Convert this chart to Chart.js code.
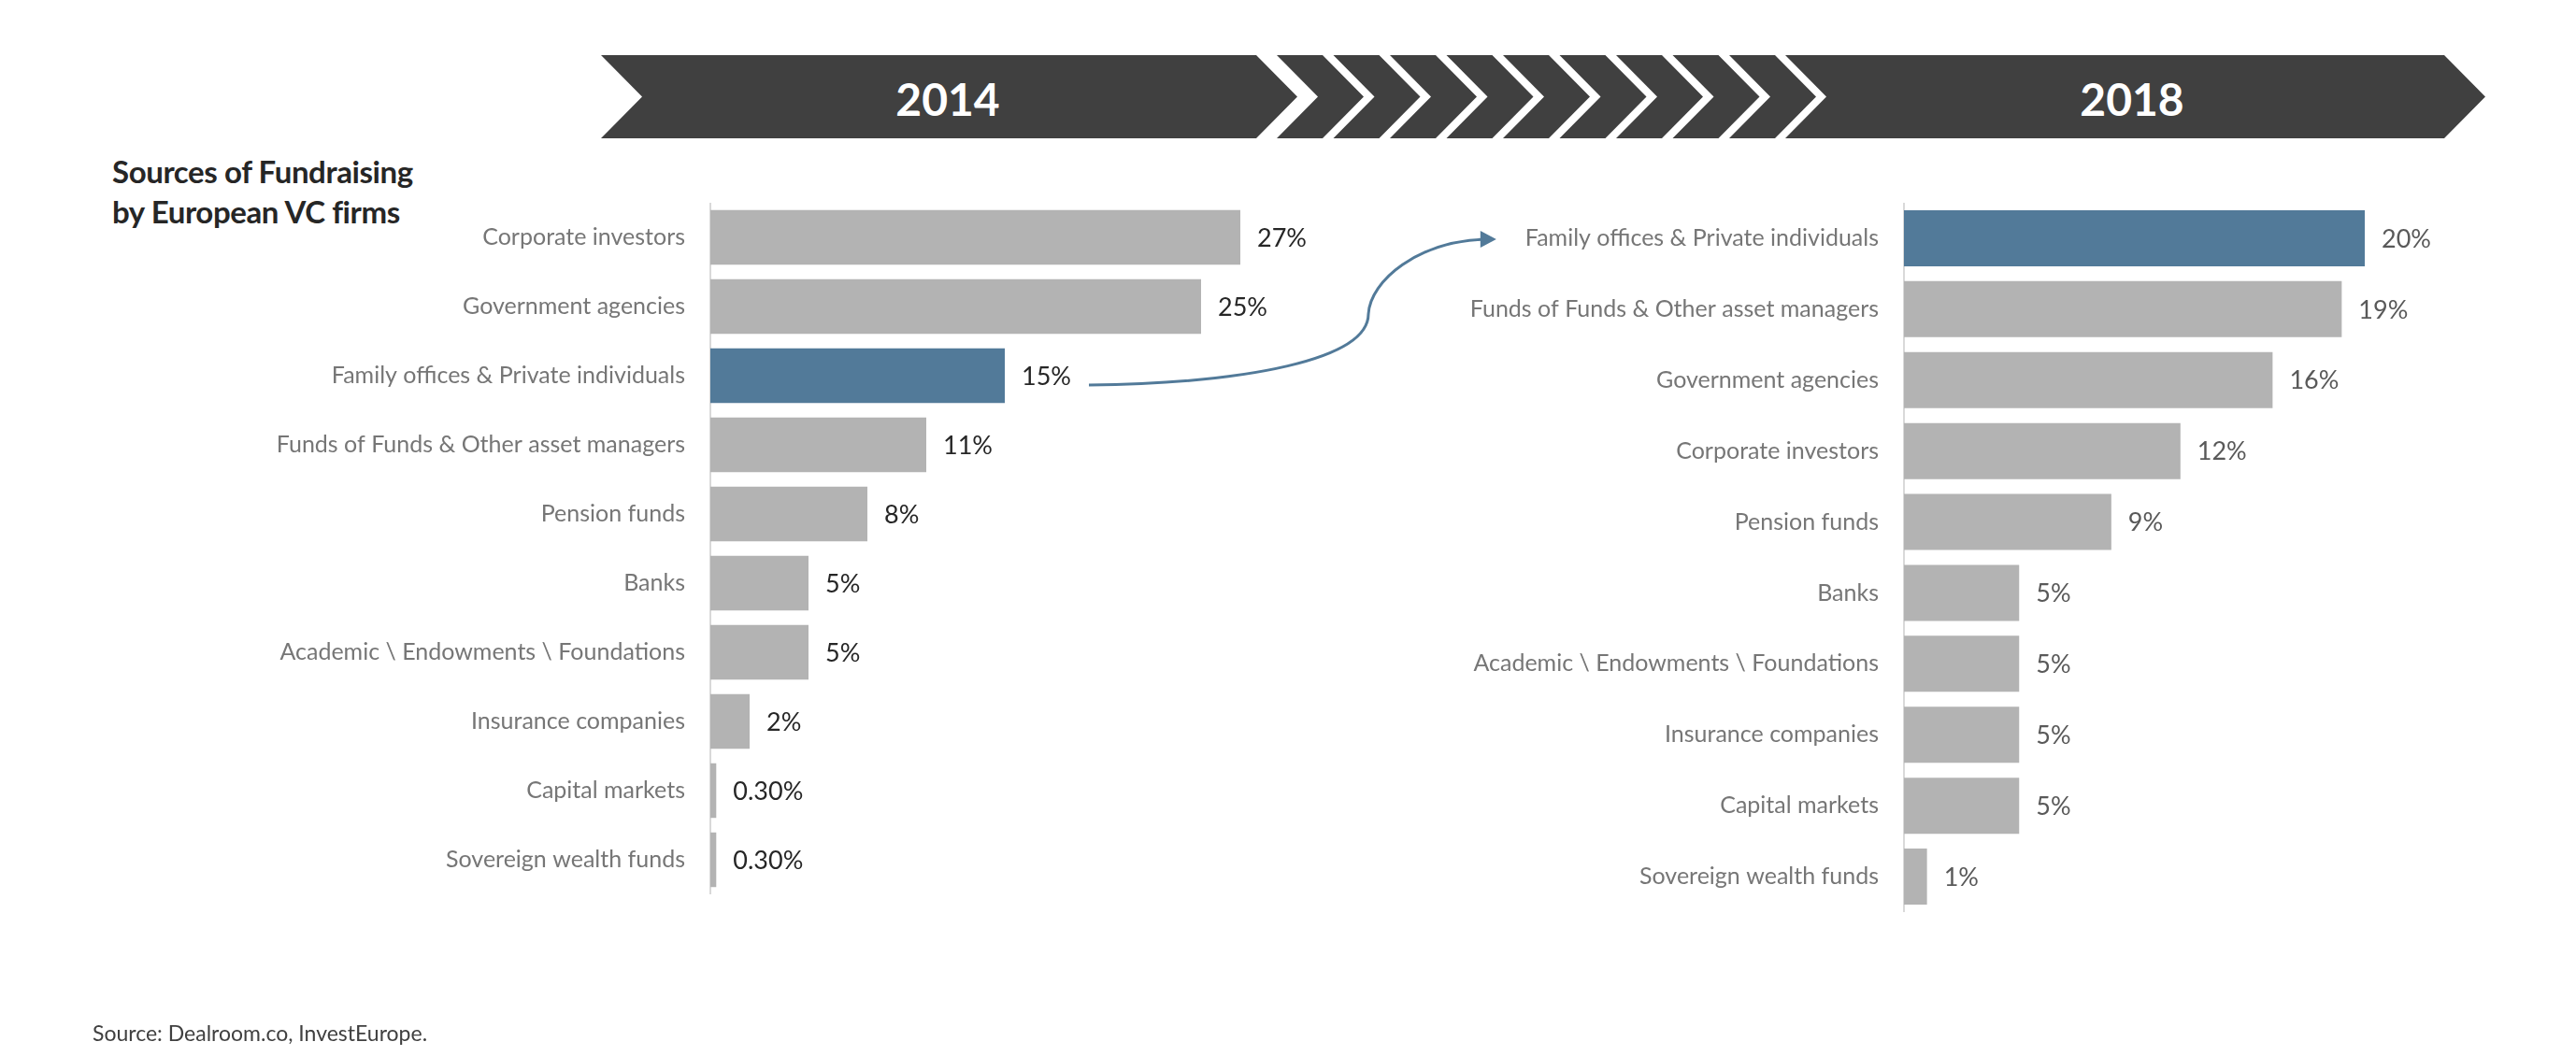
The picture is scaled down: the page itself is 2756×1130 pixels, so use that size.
<!DOCTYPE html>
<html><head><meta charset="utf-8">
<script src="https://cdn.jsdelivr.net/npm/chart.js@4.4.1/dist/chart.umd.min.js"></script>
<style>
html,body{margin:0;padding:0;background:#fff;}
body{width:2756px;height:1130px;position:relative;overflow:hidden;font-family:Lato, sans-serif;}
.box{position:absolute;}
#title{position:absolute;left:120px;top:162px;font-weight:700;font-size:33px;line-height:43px;color:#262626;letter-spacing:-0.4px;}
#source{position:absolute;left:99px;top:1091px;font-size:23px;color:#404040;}
#banner{position:absolute;left:0;top:0;}
#overlay{position:absolute;left:0;top:0;pointer-events:none;}
</style></head>
<body>
<svg id="banner" width="2756" height="170"></svg>
<div id="title">Sources of Fundraising<br>by European VC firms</div>
<div class="box" id="leftBox" style="left:260px;top:217px;width:1340px;height:740px"><canvas id="left"></canvas></div>
<div class="box" id="rightBox" style="left:1537px;top:217px;width:1190px;height:759px"><canvas id="right"></canvas></div>
<svg id="overlay" width="2756" height="1130"></svg>
<div id="source">Source: Dealroom.co, InvestEurope.</div>
<script>
// ---- data ----
const periods = ['2014', '2018'];
const highlight = 'Family offices & Private individuals';
const labels2014 = ['Corporate investors','Government agencies','Family offices & Private individuals','Funds of Funds & Other asset managers','Pension funds','Banks','Academic \\ Endowments \\ Foundations','Insurance companies','Capital markets','Sovereign wealth funds'];
const values2014 = [27, 25, 15, 11, 8, 5, 5, 2, 0.3, 0.3];
const labels2018 = ['Family offices & Private individuals','Funds of Funds & Other asset managers','Government agencies','Corporate investors','Pension funds','Banks','Academic \\ Endowments \\ Foundations','Insurance companies','Capital markets','Sovereign wealth funds'];
const values2018 = [20, 19, 16, 12, 9, 5, 5, 5, 5, 1];

// ---- styles ----
const GRAY = '#b3b3b3', BLUE = '#527a99', DARK = '#404040';
const FONT = 'Lato';
Chart.defaults.font.family = FONT;

// ---- banner ----
(function(){
  const svg = document.getElementById('banner');
  const top = 59, bot = 148, mid = (top+bot)/2, tip = 44;
  let s = '';
  const seg = (x0, x1) => `<polygon fill="${DARK}" points="${x0},${top} ${x1},${top} ${x1+tip},${mid} ${x1},${bot} ${x0},${bot} ${x0+tip},${mid}"/>`;
  s += seg(643, 1344);
  for (let i = 0; i < 9; i++) { const x0 = 1366 + i*60.5; s += seg(x0, x0+49); }
  s += seg(1910, 2615);
  s += `<text x="1014" y="${mid+2}" fill="#fff" font-family="${FONT}" font-weight="700" font-size="48" text-anchor="middle" dominant-baseline="central">${periods[0]}</text>`;
  s += `<text x="2281" y="${mid+2}" fill="#fff" font-family="${FONT}" font-weight="700" font-size="48" text-anchor="middle" dominant-baseline="central">${periods[1]}</text>`;
  svg.innerHTML = s;
})();

const fmt = v => (v < 1 ? v.toFixed(2) : String(v)) + '%';
const VAL_GAP = 18, TICK_PAD = 27, LABEL_SIZE = 25, VALUE_SIZE = 27, YW = 500;

const valueLabels = {
  id: 'valueLabels',
  afterDatasetsDraw(chart, args, opts) {
    const ctx = chart.ctx, meta = chart.getDatasetMeta(0), data = chart.data.datasets[0].data;
    ctx.save();
    ctx.font = `${VALUE_SIZE}px ${FONT}`;
    ctx.fillStyle = opts.color;
    ctx.textBaseline = 'middle';
    ctx.textAlign = 'left';
    meta.data.forEach((bar, i) => ctx.fillText(fmt(data[i]), bar.x + VAL_GAP, bar.y + 1));
    ctx.restore();
  }
};

function makeChart(id, labels, values, max, valueColor) {
  return new Chart(document.getElementById(id), {
    type: 'bar',
    data: { labels, datasets: [{
      data: values,
      backgroundColor: labels.map(l => l === highlight ? BLUE : GRAY),
      borderWidth: 0, barPercentage: 0.79, categoryPercentage: 1
    }]},
    options: {
      indexAxis: 'y', responsive: true, maintainAspectRatio: false, animation: false,
      layout: { padding: 0 },
      plugins: { legend: { display: false }, tooltip: { enabled: false }, valueLabels: { color: valueColor } },
      scales: {
        x: { display: false, min: 0, max: max },
        y: {
          position: 'left',
          afterFit: s => { s.width = YW; s.paddingTop = 0; s.paddingBottom = 0; },
          grid: { display: false, drawTicks: false },
          border: { display: true, color: '#d9d9d9', width: 2 },
          ticks: { padding: TICK_PAD, color: '#767676', font: { size: LABEL_SIZE } }
        }
      }
    },
    plugins: [valueLabels]
  });
}

const leftChart = makeChart('left', labels2014, values2014, (1340 - YW) / 21.0, '#262626');
const rightChart = makeChart('right', labels2018, values2018, (1190 - YW) / 24.65, '#595959');

// ---- connecting arrow ----
(function(){
  const lb = document.getElementById('leftBox'), rb = document.getElementById('rightBox');
  const lx0 = lb.offsetLeft, ly0 = lb.offsetTop, rx0 = rb.offsetLeft, ry0 = rb.offsetTop;
  const i = labels2014.indexOf(highlight), j = labels2018.indexOf(highlight);
  const lbar = leftChart.getDatasetMeta(0).data[i];
  const rbar = rightChart.getDatasetMeta(0).data[j];
  const c = leftChart.ctx;
  c.save(); c.font = `${VALUE_SIZE}px ${FONT}`; const vw = c.measureText(fmt(values2014[i])).width;
  c.font = `${LABEL_SIZE}px ${FONT}`; const lw = c.measureText(highlight).width; c.restore();
  const sx = lx0 + lbar.x + VAL_GAP + vw + 19, sy = ly0 + lbar.y + 10;
  const ex = rx0 + rightChart.chartArea.left - TICK_PAD - lw - 31, ey = ry0 + rbar.y + 1;
  const dx = ex - sx, dy = sy - ey;
  const P = (f, g) => `${(sx + f*dx).toFixed(1)},${(sy - g*dy).toFixed(1)}`;
  const d = `M${P(0,0)} C${P(0.386,0.013)} ${P(0.686,0.173)} ${P(0.686,0.487)} C${P(0.691,0.718)} ${P(0.808,0.987)} ${P(0.975,1)}`;
  const svg = document.getElementById('overlay');
  svg.innerHTML = `<path d="${d}" fill="none" stroke="${BLUE}" stroke-width="3"/>` +
    `<polygon fill="${BLUE}" points="${ex},${ey} ${ex-17},${ey-9} ${ex-17},${ey+9}"/>`;
})();
</script>
</body></html>
